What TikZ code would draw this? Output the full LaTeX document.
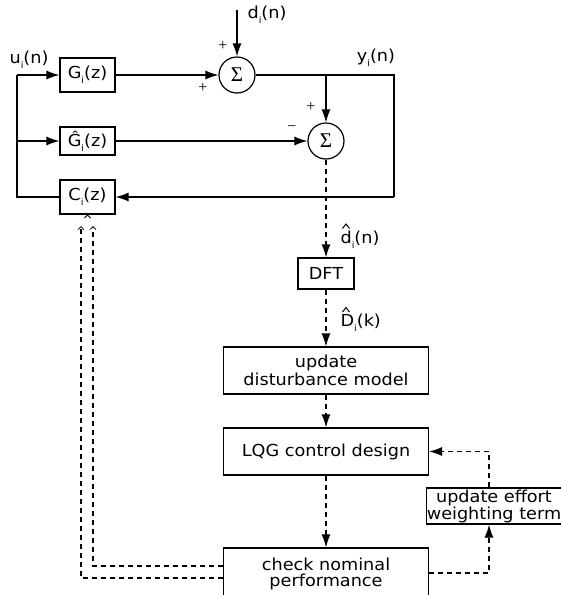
\documentclass[tikz,border=0pt]{standalone}
\usepackage{fontspec}
\setmainfont{DejaVu Sans}[FakeStretch=1.07]
\newfontfamily\sigf{Liberation Serif}
\usetikzlibrary{arrows.meta}
\newcommand{\subi}{\raisebox{-0.55ex}{\fontsize{9}{9}\selectfont i}}
\begin{document}
\begin{tikzpicture}[x=1pt,y=-1pt,
  font=\fontsize{16.5}{18}\selectfont, line width=1.2pt,
  blk/.style={draw, minimum width=55pt, minimum height=34pt, inner sep=0pt, align=center},
  sumnode/.style={draw, circle, minimum size=36pt, inner sep=0pt, font=\sigf\fontsize{21}{21}\selectfont},
  arr/.style={-{Latex[length=13pt,width=9pt]}},
  dsh/.style={dash pattern=on 5pt off 4pt},
  caret/.style={-{Straight Barb[length=3pt,width=6pt,line width=0.8pt]}},
  hatstyle/.style={line width=1pt, line join=miter},
  lbl/.style={inner sep=0pt},
  sgn/.style={font=\sigf\fontsize{16}{16}\selectfont, inner sep=0pt}]
\useasboundingbox (0,0) rectangle (561,595);

% upper loop blocks
\node[blk] (G) at (87.5,75) {G\subi(z)};
\node[blk, minimum height=28pt] (Gh) at (87.5,141) {Ĝ\subi(z)};
\node[blk] (C) at (87.5,197) {C\subi(z)};
\node[sumnode] (S1) at (237,75) {Σ};
\node[sumnode] (S2) at (326,141) {Σ};

\coordinate (dtop) at (237,10);
\coordinate (yj) at (326,75);
\coordinate (RT) at (394,75);
\coordinate (RB) at (394,197);
\coordinate (LB) at (17,197);
\coordinate (LT) at (17,75);
\coordinate (LM) at (17,141);

\draw[arr] (dtop) -- (S1);
\draw[arr] (G.east) -- (S1);
\draw (S1) -- (RT) -- (RB);
\draw[arr] (RB) -- (C.east);
\draw (C.west) -- (LB) -- (LT);
\draw[arr] (LT) -- (G.west);
\draw[arr] (LM) -- (Gh.west);
\draw[arr] (Gh.east) -- (S2);
\draw[arr] (yj) -- (S2);

% labels
\node[lbl] (u) at (29,60) {u\subi(n)};
\node[lbl] (d) at (267,15) {d\subi(n)};
\node[lbl] (y) at (376,58) {y\subi(n)};
\node[sgn] (p1) at (223,46) {+};
\node[sgn] (p2) at (203,88) {+};
\node[sgn] (p3) at (311,107) {+};
\node[sgn] (m1) at (292,129) {−};

% lower chain
\node[blk, minimum width=56pt, minimum height=31pt] (DFT) at (326,273.5) {DFT};
\node[blk, minimum width=205pt, minimum height=47pt] (upd) at (326,370.5) {update\\disturbance model};
\node[blk, minimum width=205pt, minimum height=47pt] (lqg) at (326,451.5) {LQG control design};
\node[blk, minimum width=205pt, minimum height=52pt, font=\fontsize{16.5}{15.5}\selectfont] (chk) at (326,574) {check nominal\\performance};
\node[blk, minimum width=134pt, minimum height=36pt, font=\fontsize{16.5}{14.5}\selectfont] (eff) at (494,506) {update effort\\weighting term};

\node[lbl, anchor=west] (dh) at (340,240) {d\subi(n)};
\node[lbl, anchor=west] (Dh) at (340,323) {D\subi(k)};
\draw[hatstyle] (342.5,228.5) -- (346,224) -- (349.5,228.5);
\draw[hatstyle] (342.5,312) -- (346,307.5) -- (349.5,312);

\draw[arr,dsh] (S2) -- (DFT);
\draw[arr,dsh] (DFT) -- (upd);
\draw[arr,dsh] (upd) -- (lqg);
\draw[arr,dsh] (lqg) -- (chk);

\coordinate (e1) at (489,451.5);
\coordinate (e2) at (489,573);
\draw[arr,dsh] (eff.north -| e1) -- (e1) -- (lqg.east);
\draw[arr,dsh] (chk.east |- e2) -- (e2) -- (eff.south -| e2);

% feedback to controller
\coordinate (a1) at (93,566);
\coordinate (a2) at (81,578);
\coordinate (a1t) at (93,226);
\coordinate (a2t) at (81,226);
\draw[dsh,caret] (chk.west |- a1) -- (a1) -- (a1t);
\draw[dsh,caret] (chk.west |- a2) -- (a2) -- (a2t);
\draw[line width=0.8pt] (84.5,218) -- (87.5,215) -- (90.5,218);
\end{tikzpicture}
\end{document}
